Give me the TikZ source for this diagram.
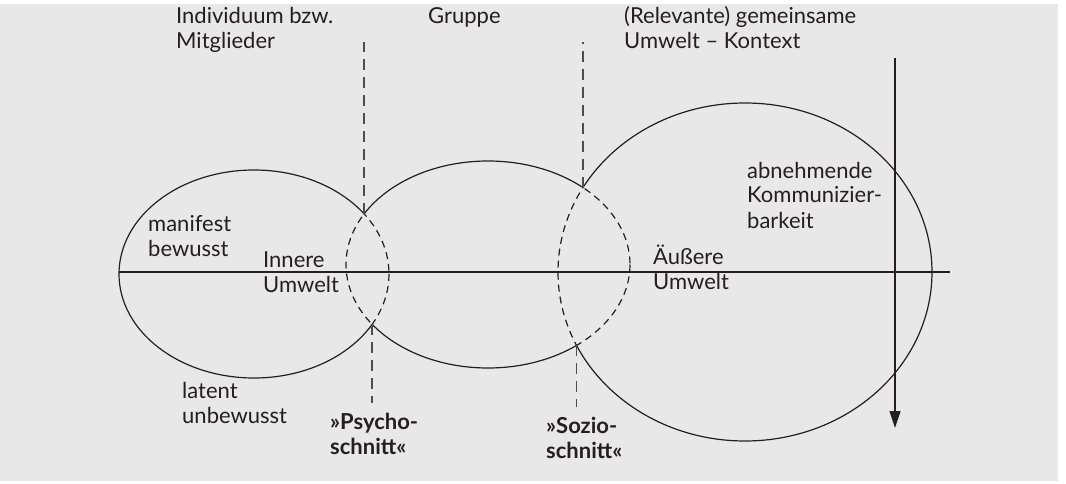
\documentclass[tikz,border=0pt]{standalone}
\usepackage{fontspec}
\setmainfont{Lato}
\usetikzlibrary{arrows.meta,intersections}

\definecolor{panel}{HTML}{E8E8E8}
\definecolor{ink}{HTML}{231F20}
\definecolor{cutgray}{HTML}{4D4D4D}

\tikzset{
  ring/.style={line width=1.2pt, draw=ink},
  hidden/.style={ring, dash pattern=on 7pt off 5pt},
  cut/.style={line width=1.6pt, draw=cutgray, dash pattern=on 11pt off 7pt},
  label/.style={anchor=base west, align=left, inner sep=0pt, text=ink,
    font=\fontsize{22}{25}\selectfont},
}

\begin{document}
\begin{tikzpicture}[x=1pt, y=-1pt]
  % Panel and fixed size
  \useasboundingbox (0,0) rectangle (1066,484);
  \fill[panel] (0,4) rectangle (1058,481);

  % The three areas
  \def\ellA{(254,274) ellipse [x radius=135, y radius=104]}
  \def\ellB{(488,264.5) ellipse [x radius=142, y radius=103.5]}
  \def\ellC{(745,272) ellipse [x radius=187, y radius=169]}
  \path[name path=eA] \ellA;
  \path[name path=eB] \ellB;
  \path[name path=eC] \ellC;

  % Solid outlines outside the overlaps
  \begin{scope}[even odd rule]
    \clip (0,0) rectangle (1066,484) \ellB;
    \draw[ring] \ellA;
  \end{scope}
  \begin{scope}[even odd rule]
    \clip (0,0) rectangle (1066,484) \ellA \ellC;
    \draw[ring] \ellB;
  \end{scope}
  \begin{scope}[even odd rule]
    \clip (0,0) rectangle (1066,484) \ellB;
    \draw[ring] \ellC;
  \end{scope}

  % Dashed outlines inside the overlaps
  \begin{scope}
    \clip \ellB;
    \draw[hidden] \ellA;
    \draw[hidden] \ellC;
  \end{scope}
  \begin{scope}
    \clip \ellA;
    \draw[hidden] \ellB;
  \end{scope}
  \begin{scope}
    \clip \ellC;
    \draw[hidden] \ellB;
  \end{scope}

  % Axis and arrow
  \coordinate (axisL) at (119,272);
  \coordinate (axisR) at (950,272);
  \draw[ring] (axisL) -- (axisR);
  \coordinate (arrTop) at (895,58);
  \coordinate (arrEnd) at (895,428);
  \draw[ring, -{Triangle[length=17pt, width=11pt]}] (arrTop) -- (arrEnd);

  % Psycho- and Sozioschnitt (first point found is the lower one)
  \path[name intersections={of=eA and eB, by={psyLow,psyUp}}];
  \path[name intersections={of=eB and eC, by={socLow,socUp}}];
  \draw[cut] (psyUp) -- (psyUp |- 0,42);
  \draw[cut] (psyLow) -- (psyLow |- 0,403);
  \draw[cut] (socUp) -- (socUp |- 0,42);
  \draw[cut] (socLow) -- (socLow |- 0,407);

  % Labels (anchored at the baseline of the last line)
  \node[label] (indiv) at (176,49) {Individuum bzw.\\Mitglieder};
  \node[label] (gruppe) at (428,24) {Gruppe};
  \node[label] (kontext) at (624,49) {(Relevante) gemeinsame\\Umwelt – Kontext};
  \node[label] (manifest) at (148,256) {manifest\\bewusst};
  \node[label] (innere) at (263,292) {Innere\\Umwelt};
  \node[label] (aeussere) at (653,289) {Äußere\\Umwelt};
  \node[label] (latent) at (182,423) {latent\\unbewusst};
  \node[label] (komm) at (747,228) {abnehmende\\Kommunizier-\\barkeit};
  \node[label, font=\fontsize{22}{25}\selectfont\bfseries] (psycho) at (330,454) {»Psycho-\\schnitt«};
  \node[label, font=\fontsize{22}{25}\selectfont\bfseries] (sozio) at (546,458) {»Sozio-\\schnitt«};
\end{tikzpicture}
\end{document}
